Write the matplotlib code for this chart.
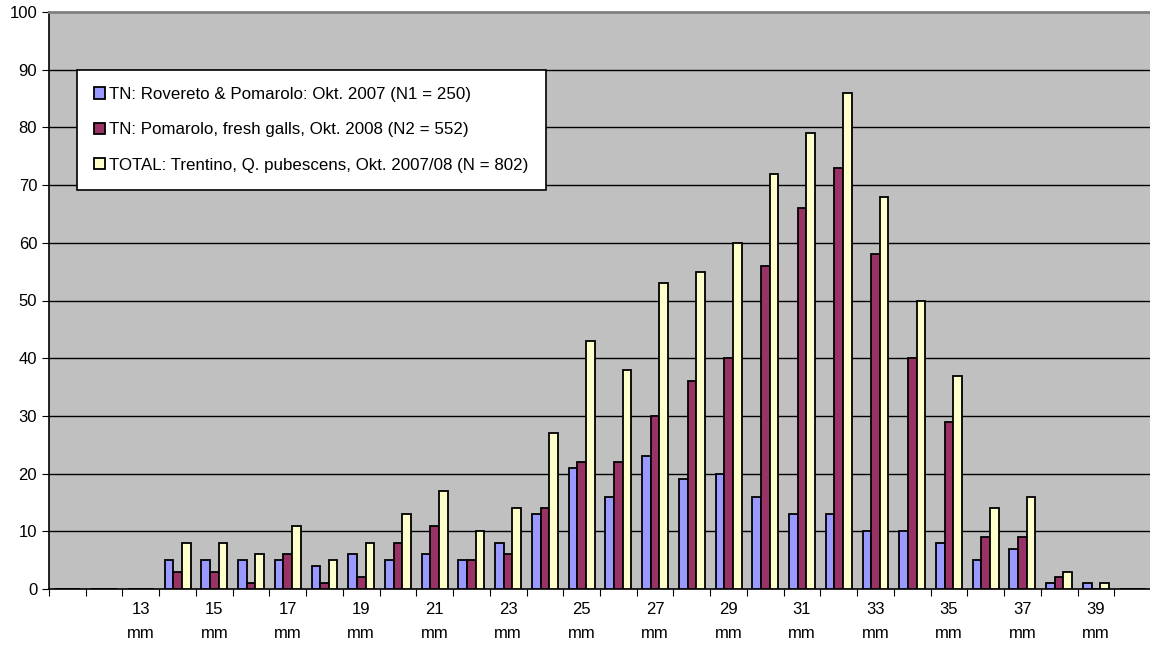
import matplotlib
matplotlib.use("Agg")
import matplotlib.pyplot as plt
import numpy as np

plt.rcParams['font.family'] = ['Liberation Sans', 'DejaVu Sans']

sizes = list(range(11, 41))
# counts per gall diameter (mm)
n1 = [0, 0, 0, 5, 5, 5, 5, 4, 6, 5, 6, 5, 8, 13, 21, 16, 23, 19, 20, 16, 13, 13, 10, 10, 8, 5, 7, 1, 1, 0]
n2 = [0, 0, 0, 3, 3, 1, 6, 1, 2, 8, 11, 5, 6, 14, 22, 22, 30, 36, 40, 56, 66, 73, 58, 40, 29, 9, 9, 2, 0, 0]
tot = [0, 0, 0, 8, 8, 6, 11, 5, 8, 13, 17, 10, 14, 27, 43, 38, 53, 55, 60, 72, 79, 86, 68, 50, 37, 14, 16, 3, 1, 0]
labels = ['TN: Rovereto & Pomarolo: Okt. 2007 (N1 = 250)',
          'TN: Pomarolo, fresh galls, Okt. 2008 (N2 = 552)',
          'TOTAL: Trentino, Q. pubescens, Okt. 2007/08 (N = 802)']
colors = ['#9999FF', '#993366', '#FFFFCC']

fig = plt.figure(figsize=(11.5, 6.45), dpi=100)
ax = fig.add_axes([49/1150, 56/645, 1102/1150, 577/645])
ax.set_facecolor('#C0C0C0')

x = np.arange(len(sizes))
w = 0.235
for i, (vals, lab, c) in enumerate(zip([n1, n2, tot], labels, colors)):
    ax.bar(x + (i - 1) * w, vals, w, color=c, edgecolor='black', linewidth=1.3,
           label=lab, zorder=3)

ax.set_xlim(-0.5, len(sizes) - 0.5)
ax.set_ylim(0, 100)
ax.set_yticks(range(0, 101, 10))
for v in range(10, 100, 10):
    ax.axhline(v, color='black', linewidth=1, zorder=1)

ax.set_xticks(np.arange(len(sizes) + 1) - 0.5)
ax.set_xticklabels([])
ax.set_xticks(x, ['%d\nmm' % s if (s % 2 == 1 and s >= 13) else '' for s in sizes], minor=True)
ax.tick_params(axis='x', which='major', length=5, direction='out', color='black')
ax.tick_params(axis='x', which='minor', length=0, pad=9, labelsize=12)
ax.tick_params(axis='y', length=5, direction='out', labelsize=12)
for t in ax.get_xticklabels(minor=True):
    t.set_linespacing(1.8)

ax.spines['right'].set_visible(False)
ax.spines['top'].set_color('#808080')
ax.spines['top'].set_linewidth(2)
ax.spines['left'].set_linewidth(1.2)
ax.spines['bottom'].set_linewidth(1.2)

leg = ax.legend(loc='upper left', bbox_to_anchor=(77/1150, 1 - 70/645), bbox_transform=fig.transFigure,
                frameon=True, fancybox=False, shadow=False, fontsize=12.2, framealpha=1,
                handlelength=0.65, handleheight=0.65, handletextpad=0.25,
                labelspacing=1.2, borderpad=1.0, borderaxespad=0)
leg.get_frame().set_edgecolor('black')
leg.get_frame().set_linewidth(1.2)
leg.get_frame().set_facecolor('white')

fig.savefig('out.png', dpi=100)
